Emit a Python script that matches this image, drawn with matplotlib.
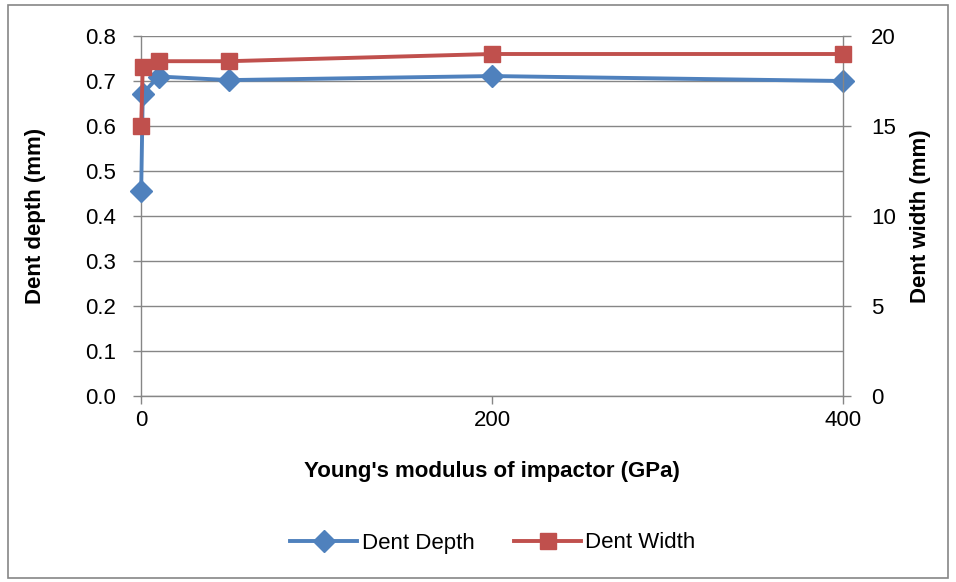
import matplotlib
matplotlib.use("Agg")
import matplotlib.pyplot as plt
from matplotlib.patches import Rectangle
from matplotlib.lines import Line2D

# Young's modulus of impactor (GPa)
modulus = [0.1, 1, 10, 50, 200, 400]
dent_depth = [0.455, 0.672, 0.710, 0.702, 0.711, 0.700]   # mm
dent_width = [15.0, 18.3, 18.6, 18.6, 19.0, 19.0]          # mm

blue = "#4F81BD"
red = "#C0504D"
grid_c = "#868686"

plt.rcParams["font.family"] = ["Liberation Sans", "DejaVu Sans"]

fig = plt.figure(figsize=(9.56, 5.82), dpi=100)
ax = fig.add_axes([141 / 956, 1 - 396 / 582, (843 - 141) / 956, (396 - 36) / 582])
ax2 = ax.twinx()

ax.plot(modulus, dent_depth, color=blue, lw=2.8, marker="D", ms=11,
        mfc=blue, mec=blue, zorder=3, clip_on=False)
ax2.plot(modulus, dent_width, color=red, lw=2.8, marker="s", ms=12,
         mfc=red, mec=red, zorder=3, clip_on=False)

ax.set_xlim(0, 400)
ax.set_ylim(0, 0.8)
ax2.set_ylim(0, 20)
ax.set_xticks([0, 200, 400])
ax.set_yticks([i / 10 for i in range(9)])
ax.set_yticklabels([f"{i / 10:.1f}" for i in range(9)])
ax2.set_yticks([0, 5, 10, 15, 20])

ax.grid(axis="y", color=grid_c, lw=1)
ax.set_axisbelow(True)

for a in (ax, ax2):
    for s in a.spines.values():
        s.set_visible(False)
ax.spines["left"].set_visible(True)
ax.spines["bottom"].set_visible(True)
ax2.spines["right"].set_visible(True)
for s in (ax.spines["left"], ax.spines["bottom"], ax2.spines["right"]):
    s.set_color(grid_c)
    s.set_linewidth(1)

ax.tick_params(axis="both", colors=grid_c, labelcolor="black", labelsize=16,
               length=6, width=1, direction="out", pad=12)
ax.tick_params(axis="x", pad=4)
ax2.tick_params(axis="y", colors=grid_c, labelcolor="black", labelsize=16,
                length=6, width=1, direction="out", pad=14)

ax.set_xlabel("Young's modulus of impactor (GPa)", fontsize=16, fontweight="bold", labelpad=22)
ax.set_ylabel("Dent depth (mm)", fontsize=16, fontweight="bold", labelpad=28)
ax2.set_ylabel("Dent width (mm)", fontsize=16, fontweight="bold", labelpad=10)

handles = [
    Line2D([], [], color=blue, lw=2.8, marker="D", ms=11),
    Line2D([], [], color=red, lw=2.8, marker="s", ms=12),
]
fig.legend(handles, ["Dent Depth", "Dent Width"], loc="center",
           bbox_to_anchor=(493 / 956, 1 - 543 / 582), ncol=2, frameon=False,
           fontsize=16, handlelength=3.0, columnspacing=1.8, handletextpad=0.2)

# outer chart border
fig.patches.append(Rectangle((8 / 956, 4 / 582), 940 / 956, 573 / 582,
                             transform=fig.transFigure, fill=False,
                             edgecolor=grid_c, lw=1.2))

fig.savefig("out.png", dpi=100)
